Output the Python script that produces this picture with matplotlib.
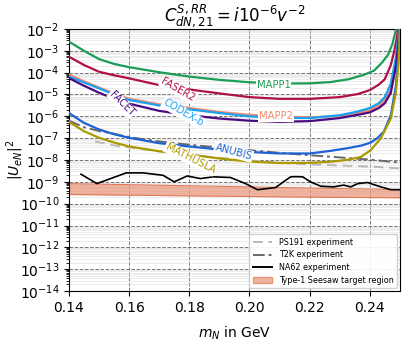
import numpy as np
import matplotlib
matplotlib.use("Agg")
import matplotlib.pyplot as plt
from matplotlib.patches import Patch
from matplotlib.lines import Line2D

# ---- data (log10 |U|^2 values) ----
mapp1_x = [0.14, 0.145, 0.15, 0.155, 0.16, 0.17, 0.18, 0.19, 0.20, 0.21, 0.22, 0.227, 0.233, 0.238, 0.2415, 0.244, 0.246, 0.2475, 0.2485, 0.249]
mapp1_y = [-2.58, -3.0, -3.38, -3.6, -3.75, -3.98, -4.18, -4.33, -4.44, -4.5, -4.49, -4.43, -4.3, -4.1, -3.9, -3.55, -3.2, -2.7, -2.15, -1.9]

faser2_x = [0.14, 0.145, 0.15, 0.155, 0.16, 0.17, 0.18, 0.19, 0.20, 0.21, 0.22, 0.23, 0.236, 0.24, 0.243, 0.245, 0.247, 0.248, 0.249, 0.2495]
faser2_y = [-3.27, -3.65, -3.96, -4.12, -4.26, -4.57, -4.77, -4.95, -5.12, -5.2, -5.2, -5.12, -4.98, -4.8, -4.55, -4.3, -3.65, -3.1, -2.4, -1.9]

mapp2_x = [0.14, 0.145, 0.15, 0.155, 0.16, 0.17, 0.18, 0.19, 0.20, 0.21, 0.22, 0.23, 0.236, 0.24, 0.243, 0.245, 0.247, 0.2487, 0.2495, 0.2499]
mapp2_y = [-4.08, -4.4, -4.68, -4.95, -5.2, -5.45, -5.62, -5.8, -5.93, -6.0, -6.05, -5.98, -5.85, -5.72, -5.5, -5.25, -4.75, -3.6, -2.6, -1.9]

codexb_x = [0.14, 0.145, 0.15, 0.155, 0.16, 0.17, 0.18, 0.19, 0.20, 0.21, 0.22, 0.23, 0.236, 0.24, 0.243, 0.245, 0.247, 0.2487, 0.2495, 0.2498]
codexb_y = [-4.18, -4.45, -4.72, -5.0, -5.25, -5.5, -5.68, -5.85, -6.0, -6.07, -6.08, -5.95, -5.78, -5.62, -5.4, -5.12, -4.5, -3.3, -2.3, -1.9]

facet_x = [0.14, 0.145, 0.15, 0.155, 0.16, 0.17, 0.18, 0.19, 0.20, 0.21, 0.22, 0.23, 0.236, 0.24, 0.243, 0.245, 0.247, 0.2487, 0.2495, 0.2499]
facet_y = [-4.25, -4.6, -4.92, -5.2, -5.42, -5.75, -5.95, -6.1, -6.2, -6.25, -6.22, -6.08, -5.93, -5.82, -5.62, -5.4, -4.92, -3.7, -2.7, -1.9]

anubis_x = [0.14, 0.145, 0.15, 0.155, 0.16, 0.17, 0.18, 0.19, 0.20, 0.21, 0.22, 0.227, 0.233, 0.2375, 0.2403, 0.2425, 0.2447, 0.247, 0.2487, 0.2497, 0.25]
anubis_y = [-5.85, -6.3, -6.6, -6.82, -6.98, -7.23, -7.38, -7.52, -7.63, -7.7, -7.7, -7.58, -7.45, -7.33, -7.2, -7.0, -6.7, -5.95, -4.6, -2.75, -1.9]

mathusla_x = [0.14, 0.145, 0.15, 0.155, 0.16, 0.17, 0.18, 0.19, 0.20, 0.21, 0.22, 0.227, 0.233, 0.237, 0.2403, 0.2437, 0.247, 0.2487, 0.2497, 0.25]
mathusla_y = [-6.25, -6.68, -6.98, -7.2, -7.38, -7.6, -7.75, -7.93, -8.07, -8.14, -8.13, -8.08, -7.98, -7.86, -7.55, -7.0, -6.1, -4.9, -3.35, -1.9]

t2k_x = [0.14, 0.145, 0.15, 0.155, 0.16, 0.17, 0.18, 0.19, 0.20, 0.21, 0.22, 0.23, 0.24, 0.25]
t2k_y = [-6.2, -6.5, -6.67, -6.8, -6.95, -7.15, -7.3, -7.43, -7.55, -7.67, -7.78, -7.88, -7.98, -8.12]

ps191_x = [0.1487, 0.155, 0.16, 0.17, 0.18, 0.19, 0.20, 0.21, 0.22, 0.23, 0.24, 0.25]
ps191_y = [-7.15, -7.33, -7.42, -7.6, -7.75, -7.9, -8.02, -8.12, -8.2, -8.25, -8.3, -8.38]

na62_x = [0.144, 0.1493, 0.159, 0.1647, 0.1713, 0.175, 0.1793, 0.1837, 0.188, 0.1937, 0.1987, 0.2027, 0.2087,
          0.2113, 0.2137, 0.2153, 0.2177, 0.2203, 0.2237, 0.228, 0.2313, 0.2337, 0.236, 0.2393, 0.241, 0.2437, 0.247, 0.25]
na62_y = [-8.65, -9.08, -8.59, -8.59, -8.7, -9.0, -8.73, -8.85, -8.77, -8.8, -9.08, -9.36, -9.26,
          -9.0, -8.77, -8.76, -8.77, -9.0, -9.2, -9.23, -9.15, -9.23, -9.08, -9.03, -9.11, -9.23, -9.36, -9.36]

seesaw_x = [0.14, 0.16, 0.18, 0.20, 0.22, 0.24, 0.25]
seesaw_top = [-9.08, -9.13, -9.18, -9.23, -9.28, -9.33, -9.35]
seesaw_bot = [-9.58, -9.61, -9.64, -9.67, -9.70, -9.72, -9.73]

yticks_exp = [-2, -3, -4, -5, -6, -7, -8, -9, -10, -11, -12, -13, -14]
xticks = [0.14, 0.16, 0.18, 0.20, 0.22, 0.24]

curves = [
    ("MAPP1", mapp1_x, mapp1_y, "#1a9e55", (0.208, -4.57), 0),
    ("FASER2", faser2_x, faser2_y, "#b01048", (0.1763, -4.8), -30),
    ("MAPP2", mapp2_x, mapp2_y, "#f4896b", (0.2087, -5.99), 0),
    ("CODEX-b", codexb_x, codexb_y, "#18a2f0", (0.178, -5.85), -30),
    ("FACET", facet_x, facet_y, "#4a0b7e", (0.1576, -5.41), -45),
    ("ANUBIS", anubis_x, anubis_y, "#1d62d2", (0.1947, -7.63), -15),
    ("MATHUSLA", mathusla_x, mathusla_y, "#aa9a00", (0.1803, -7.93), -27),
]

fig = plt.figure(figsize=(4.08, 3.49), dpi=100)
ax = fig.add_axes([0.169, 0.166, 0.811, 0.751])

def p(v):
    return 10.0 ** np.asarray(v)

ax.fill_between(seesaw_x, p(seesaw_bot), p(seesaw_top), color="#e9967a", alpha=0.72, lw=0, zorder=2)
ax.plot(seesaw_x, p(seesaw_top), color="#e07a5c", lw=0.8, zorder=2)
ax.plot(seesaw_x, p(seesaw_bot), color="#e07a5c", lw=0.8, zorder=2)

ax.plot(ps191_x, p(ps191_y), color="#b8b8b8", ls=(0, (5, 3)), lw=1.4, zorder=3)
ax.plot(t2k_x, p(t2k_y), color="#686868", ls=(0, (6, 2, 1.5, 2)), lw=1.4, zorder=3)
ax.plot(na62_x, p(na62_y), color="black", lw=1.2, zorder=4)

for name, xs, ys, col, (lx, ly), rot in curves:
    ax.plot(xs, p(ys), color=col, lw=1.6, zorder=5)
    ax.text(lx, 10 ** ly, name, color=col, fontsize=7.2, rotation=rot,
            ha="center", va="center", zorder=6,
            bbox=dict(boxstyle="square,pad=0.1", fc="white", ec="none"))

ax.set_yscale("log")
ax.set_xlim(0.14, 0.25)
ax.set_ylim(1e-14, 1e-2)
ax.set_yticks([10.0 ** e for e in yticks_exp])
ax.set_xticks(xticks)
ax.set_xticklabels([f"{v:.2f}" for v in xticks])
ax.yaxis.set_minor_locator(matplotlib.ticker.LogLocator(base=10, subs=np.arange(2, 10), numticks=100))
ax.tick_params(axis="both", labelsize=10)
ax.grid(True, which="major", ls="--", color="#555555", lw=0.7, alpha=0.8)
ax.grid(True, which="minor", axis="y", ls="-", color="#dddddd", lw=0.5, alpha=0.8)
ax.set_axisbelow(True)

ax.set_title(r"$C^{S,RR}_{dN,21} = i10^{-6}v^{-2}$", fontsize=12)
ax.set_xlabel(r"$m_N$ in GeV", va="center")
ax.xaxis.set_label_coords(0.5, -0.16)
ax.set_ylabel(r"$|U_{eN}|^2$", va="center")
ax.yaxis.set_label_coords(-0.163, 0.5)

handles = [
    Line2D([], [], color="#b8b8b8", ls=(0, (5, 3)), lw=1.4),
    Line2D([], [], color="#686868", ls=(0, (6, 2, 1.5, 2)), lw=1.4),
    Line2D([], [], color="black", lw=1.4),
    Patch(facecolor="#e9967a", alpha=0.72, edgecolor="#e07a5c"),
]
labels = ["PS191 experiment", "T2K experiment", "NA62 experiment", "Type-1 Seesaw target region"]
ax.legend(handles, labels, loc="lower right", fontsize=5.8, framealpha=0.9,
          handlelength=2.4, borderpad=0.45, labelspacing=0.45, borderaxespad=0.35)

fig.savefig("out.png", dpi=100)
